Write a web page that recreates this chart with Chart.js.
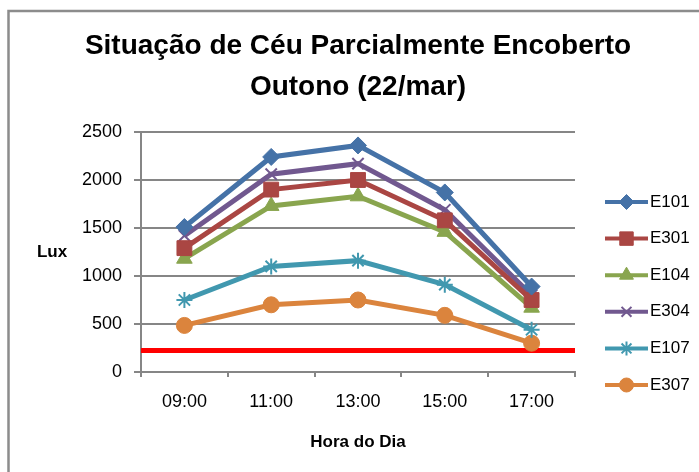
<!DOCTYPE html>
<html>
<head>
<meta charset="utf-8">
<script src="https://cdn.jsdelivr.net/npm/chart.js@4/dist/chart.umd.min.js"></script>
<style>
  html, body { margin: 0; padding: 0; background: #fff; }
  #wrap { width: 699px; height: 472px; }
</style>
</head>
<body>
<div id="wrap"><canvas id="grafico" width="699" height="472"></canvas></div>
<script>
// medições de iluminância por sala (lux)
var horas = ["09:00", "11:00", "13:00", "15:00", "17:00"];
var e101 = [1510, 2240, 2360, 1870, 890];
var e301 = [1290, 1900, 2000, 1580, 750];
var e104 = [1180, 1730, 1830, 1460, 670];
var e304 = [1420, 2060, 2170, 1690, 800];
var e107 = [750, 1100, 1160, 910, 440];
var e307 = [485, 700, 750, 590, 300];
var limite = 225;
var luxMin = 0, luxMax = 2500, luxPasso = 500;

var fonte = "'Liberation Sans', Arial, sans-serif";
var cinza = '#868686';

function serie(nome, valores, cor, estilo, raio, borda) {
    return {
        label: nome,
        data: valores,
        borderColor: cor,
        backgroundColor: cor,
        borderWidth: 5,
        pointStyle: estilo,
        pointRadius: raio,
        pointHoverRadius: raio,
        pointBackgroundColor: cor,
        pointBorderColor: cor,
        pointBorderWidth: borda,
        tension: 0
    };
}

var series = [
    serie("E101", e101, '#4572A7', 'rectRot', 8.5, 1),
    serie("E301", e301, '#AA4643', 'rect', 10.5, 1),
    serie("E104", e104, '#89A54E', 'triangle', 9, 1),
    serie("E304", e304, '#71588F', 'crossRot', 8, 2),
    serie("E107", e107, '#4198AF', 'star', 8, 2),
    serie("E307", e307, '#DB843D', 'circle', 8, 1)
];

// linha de referência que atravessa toda a área do gráfico
var linhaLimite = {
    label: 'limite',
    data: [{x: 0, y: limite}, {x: 1, y: limite}],
    xAxisID: 'xLimite',
    borderColor: '#FF0000',
    borderWidth: 5,
    pointRadius: 0,
    pointHoverRadius: 0
};

var moldura = {
    id: 'moldura',
    beforeDraw: function (chart) {
        var ctx = chart.ctx;
        ctx.save();
        ctx.fillStyle = '#fff';
        ctx.fillRect(0, 0, chart.width, chart.height);
        ctx.strokeStyle = '#8c8c8c';
        ctx.lineWidth = 2.5;
        ctx.strokeRect(8.5, 11, chart.width + 20, chart.height + 20);
        ctx.restore();
    }
};

var rotuloLux = {
    id: 'rotuloLux',
    afterDraw: function (chart) {
        var ctx = chart.ctx;
        ctx.save();
        ctx.font = 'bold 17px ' + fonte;
        ctx.fillStyle = '#000';
        ctx.textAlign = 'center';
        ctx.textBaseline = 'middle';
        ctx.fillText('Lux', 52, 252);
        ctx.restore();
    }
};

// legenda com traço + marcador, à direita da área do gráfico
var legendaSeries = {
    id: 'legendaSeries',
    afterDraw: function (chart) {
        var ctx = chart.ctx;
        var x0 = 605, x1 = 648, topo = 202, passo = 36.6;
        ctx.save();
        chart.data.datasets.forEach(function (ds, i) {
            if (ds.xAxisID === 'xLimite') return;
            var y = topo + i * passo;
            ctx.strokeStyle = ds.borderColor;
            ctx.lineWidth = 4;
            ctx.lineCap = 'butt';
            ctx.beginPath();
            ctx.moveTo(x0, y);
            ctx.lineTo(x1, y);
            ctx.stroke();
            ctx.fillStyle = ds.pointBackgroundColor;
            ctx.strokeStyle = ds.pointBorderColor;
            ctx.lineWidth = ds.pointBorderWidth;
            Chart.helpers.drawPoint(ctx, {
                pointStyle: ds.pointStyle,
                radius: ds.pointRadius - 1,
                borderWidth: ds.pointBorderWidth,
                rotation: 0
            }, (x0 + x1) / 2, y);
            ctx.fillStyle = '#000';
            ctx.font = '17px ' + fonte;
            ctx.textAlign = 'left';
            ctx.textBaseline = 'middle';
            ctx.fillText(ds.label, x1 + 2, y);
        });
        ctx.restore();
    }
};

new Chart(document.getElementById('grafico'), {
    type: 'line',
    data: {
        labels: horas,
        datasets: series.concat([linhaLimite])
    },
    options: {
        responsive: false,
        animation: false,
        devicePixelRatio: 1,
        layout: {
            padding: {top: 12, left: 17, right: 0, bottom: 19}
        },
        plugins: {
            legend: {display: false},
            tooltip: {enabled: false},
            title: {
                display: true,
                text: ['Situação de Céu Parcialmente Encoberto', 'Outono (22/mar)'],
                color: '#000',
                font: {family: fonte, size: 28, weight: 'bold', lineHeight: 1.464},
                padding: {top: 14, bottom: 24}
            }
        },
        scales: {
            x: {
                type: 'category',
                offset: true,
                grid: {
                    offset: true,
                    drawOnChartArea: false,
                    drawTicks: true,
                    tickLength: 5,
                    color: cinza,
                    lineWidth: 2
                },
                border: {display: true, color: cinza, width: 2},
                ticks: {
                    color: '#000',
                    padding: 14,
                    maxRotation: 0,
                    font: {family: fonte, size: 18}
                },
                title: {
                    display: true,
                    text: 'Hora do Dia',
                    color: '#000',
                    font: {family: fonte, size: 17, weight: 'bold'},
                    padding: {top: 6, bottom: 0}
                }
            },
            xLimite: {
                type: 'linear',
                display: false,
                min: 0,
                max: 1
            },
            y: {
                min: luxMin,
                max: luxMax,
                afterFit: function (escala) { escala.width = 124; },
                grid: {
                    color: cinza,
                    lineWidth: 2,
                    drawTicks: true,
                    tickLength: 7
                },
                border: {display: true, color: cinza, width: 2},
                ticks: {
                    stepSize: luxPasso,
                    color: '#000',
                    padding: 12,
                    font: {family: fonte, size: 18},
                    callback: function (v) { return String(v); }
                }
            },
            // eixo vazio à direita: reserva o espaço da legenda
            yLegenda: {
                type: 'linear',
                position: 'right',
                afterFit: function (escala) { escala.width = 124; },
                grid: {display: false},
                border: {display: false},
                ticks: {display: false}
            }
        }
    },
    plugins: [moldura, rotuloLux, legendaSeries]
});
</script>
</body>
</html>
